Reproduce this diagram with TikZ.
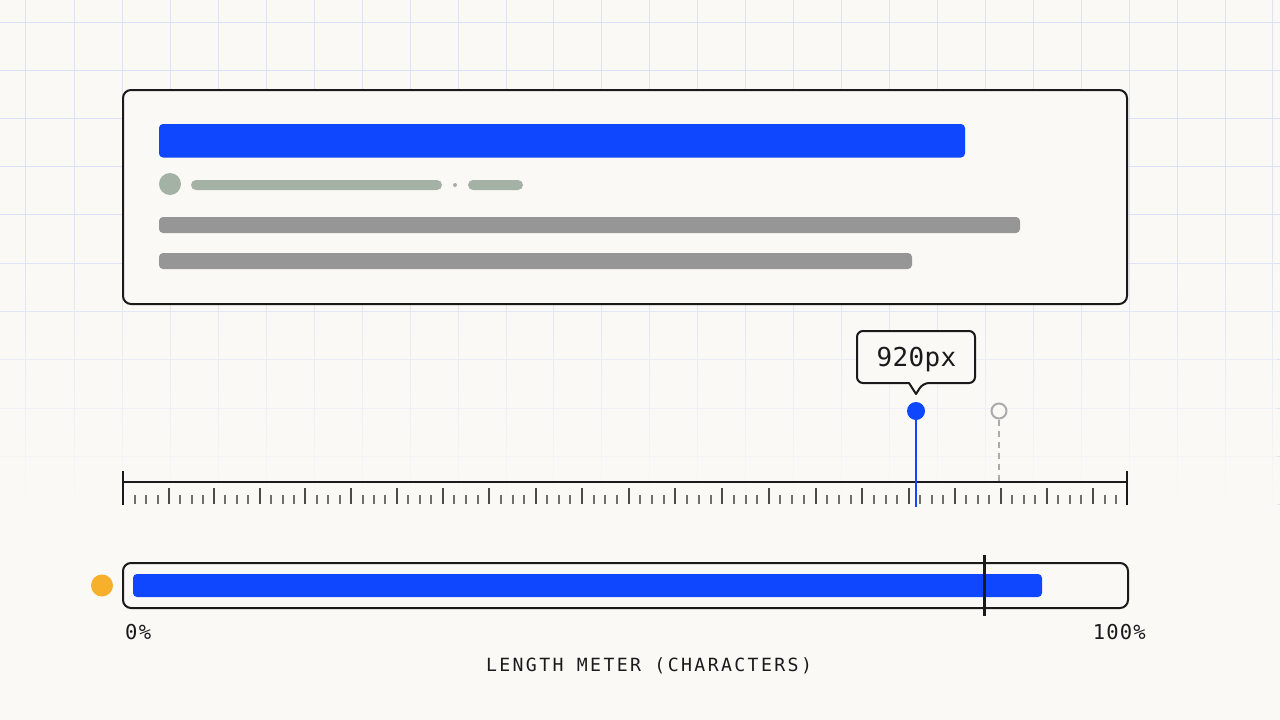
\documentclass[tikz,border=0pt]{standalone}
\usepackage{fontspec}
\usetikzlibrary{fadings}
\newfontfamily\monoBig[LetterSpace=1.4]{DejaVu Sans Mono}
\newfontfamily\monoLab[LetterSpace=13]{DejaVu Sans Mono}
\newfontfamily\monoPct[LetterSpace=6]{DejaVu Sans Mono}
\definecolor{bgC}{HTML}{FBF9F5}
\definecolor{gridC}{HTML}{DDE3F6}
\definecolor{blueC}{HTML}{0F47FF}
\definecolor{sageC}{HTML}{A3B2A4}
\definecolor{grayC}{HTML}{969696}
\definecolor{amberC}{HTML}{F7B02C}
\definecolor{inkC}{HTML}{1A1A1A}
\definecolor{ghostC}{HTML}{ABABAB}
\tikzfading[name=gridfade, top color=transparent!100, bottom color=transparent!0]
\tikzset{
  gridline/.style={draw=gridC, line width=1pt},
  panelbox/.style={draw=inkC, line width=2pt, fill=bgC, rounded corners=8pt},
  headbar/.style={fill=blueC, rounded corners=4pt},
  metabar/.style={fill=sageC, rounded corners=5pt},
  textbar/.style={fill=grayC, rounded corners=4pt},
  majortick/.style={draw=inkC!78!bgC, line width=2pt},
  minortick/.style={draw=inkC!62!bgC, line width=2pt},
  rulerline/.style={draw=inkC, line width=2pt},
  dotnode/.style={circle, inner sep=0pt, minimum size=#1},
  lab/.style={text=inkC, inner sep=0pt}
}
\begin{document}
\begin{tikzpicture}[x=1pt,y=-1pt]
\useasboundingbox (0,0) rectangle (1280,720);
\fill[bgC] (0,0) rectangle (1280,720);
% grid
\foreach \gx in {25,74.5,122.5,170.5,218.5,266.5,314.5,362.5,410.5,458.5,506.5,553.5,601.5,649.5,697.5,745.5,793.5,841.5,889.5,937.5,985.5,1033.5,1081.5,1129.5,1177.5,1225.5,1272.5}
  \draw[gridline] (\gx,0) -- (\gx,510);
\foreach \gy in {22.5,70.5,118.5,166.5,214.5,263.5,311.5,359.5,408.5,456.5,504.5}
  \draw[gridline] (0,\gy) -- (1280,\gy);
\fill[bgC, path fading=gridfade] (0,250) rectangle (1280,510);
% headline card
\path[panelbox] (123,90) rectangle (1127,304);
\fill[headbar] (159,124) rectangle (965,157.5);
\node[dotnode=22pt, fill=sageC] (avatar) at (170,184) {};
\fill[metabar] (191,180) rectangle (442,190);
\node[dotnode=4pt, fill=sageC] (sep) at (455,185) {};
\fill[metabar] (468,180) rectangle (523,190);
\fill[textbar] (159,217) rectangle (1020,233);
\fill[textbar] (159,253) rectangle (912,269);
% ruler ticks
\foreach \mx [remember=\mx as \px (initially 123)] in {169.3,214,259.7,305.3,351.3,396.7,442.7,489.3,535.7,582,628.7,675.3,722.3,768.7,815.7,862.3,908.7,955,1000.7,1046.7,1092.7}{
  \foreach \j in {1,2,3}{
    \pgfmathsetmacro{\tx}{round(\px+(\mx-\px)*\j/4)}
    \draw[minortick] (\tx,495) -- (\tx,504);
  }
  \pgfmathsetmacro{\mr}{round(\mx)}
  \draw[majortick] (\mr,488) -- (\mr,504);
}
\draw[minortick] (1105,495) -- (1105,504);
\draw[minortick] (1116,495) -- (1116,504);
\draw[rulerline] (123,482) -- (1127,482);
\draw[rulerline] (123,471) -- (123,505);
\draw[rulerline] (1127,471) -- (1127,505);
% thumbs
\node[dotnode=18pt, fill=blueC] (thumb) at (916,411) {};
\coordinate (thumbfoot) at (916,507);
\draw[blueC, line width=2.4pt] (thumb.center) -- (thumbfoot);
\node[dotnode=15pt, draw=ghostC, line width=2pt, fill=bgC] (ghost) at (999,411) {};
\coordinate (ghostfoot) at (999,482);
\draw[ghostC, line width=2pt, dash pattern=on 6pt off 5pt] (ghost.south) -- (ghostfoot);
% tooltip
\draw[draw=inkC, line width=2pt, fill=bgC, line join=round, rounded corners=6pt]
  (916,331) -- (975,331) -- (975,383) -- (923,383) [sharp corners] -- (916,394) -- (909,383) [rounded corners=6pt] -- (857,383) -- (857,331) -- cycle;
\node[lab, font=\monoBig\fontsize{26}{30}\selectfont, anchor=base] (tip) at (916.5,366) {920px};
% meter
\path[panelbox] (123,563) rectangle (1128,608);
\fill[headbar] (133,574) rectangle (1042,597);
\coordinate (marktop) at (984.5,555);
\coordinate (markbot) at (984.5,616);
\draw[inkC, line width=3pt] (marktop) -- (markbot);
\node[dotnode=22pt, fill=amberC] (amber) at (102,585.5) {};
\node[lab, font=\monoPct\fontsize{20.5}{25}\selectfont, anchor=base west] (zero) at (125,639) {0\%};
\node[lab, font=\monoPct\fontsize{20.5}{25}\selectfont, anchor=base east] (full) at (1146,639) {100\%};
\node[lab, font=\monoLab\fontsize{18.2}{22}\selectfont, anchor=base] (cap) at (649,671) {LENGTH METER (CHARACTERS)};
\end{tikzpicture}
\end{document}
